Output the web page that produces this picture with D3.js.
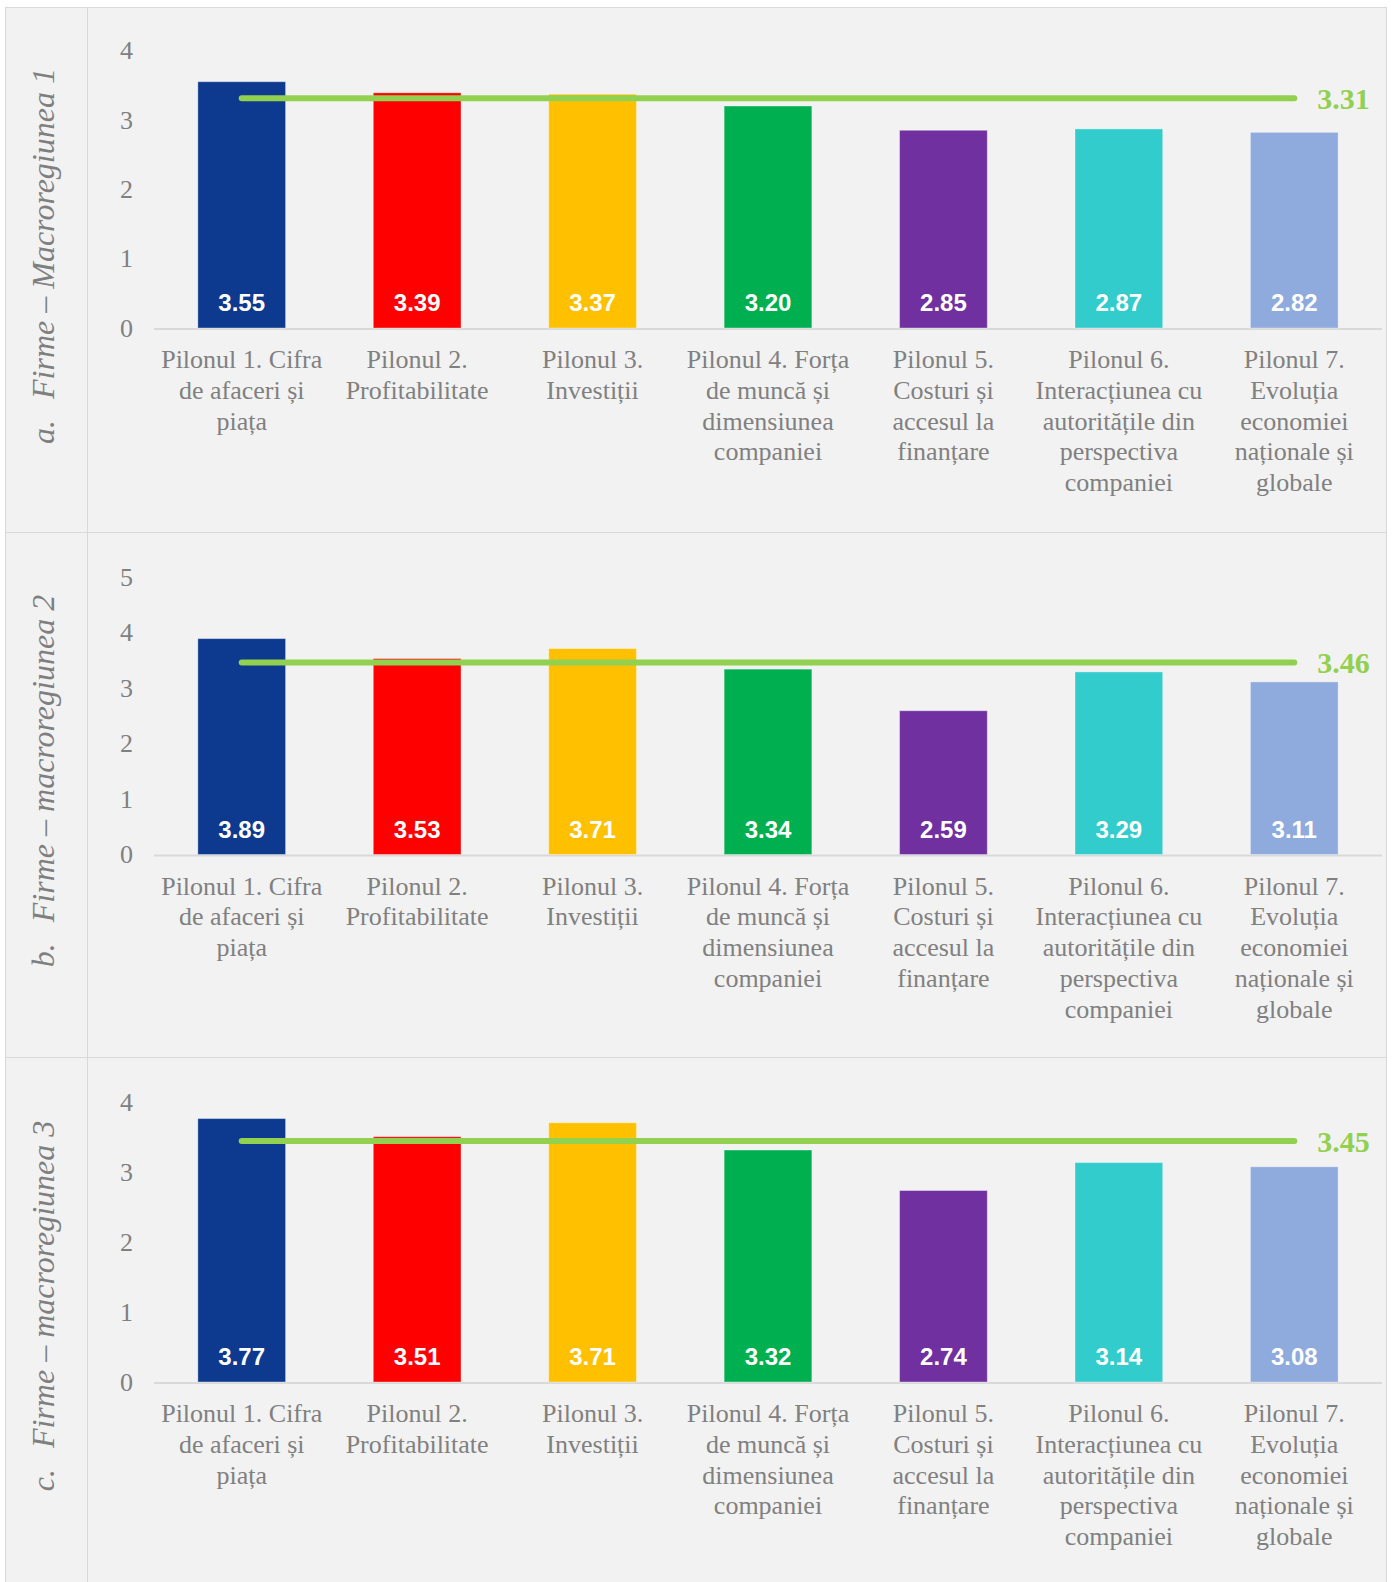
<!DOCTYPE html>
<html>
<head>
<meta charset="utf-8">
<script src="https://cdn.jsdelivr.net/npm/d3@7"></script>
<style>
  body { margin: 0; background: #ffffff; }
  svg { display: block; }
</style>
</head>
<body>
<script>
// categories (as wrapped in the picture)
var categories = [
  ["Pilonul 1. Cifra", "de afaceri și", "piața"],
  ["Pilonul 2.", "Profitabilitate"],
  ["Pilonul 3.", "Investiții"],
  ["Pilonul 4. Forța", "de muncă și", "dimensiunea", "companiei"],
  ["Pilonul 5.", "Costuri și", "accesul la", "finanțare"],
  ["Pilonul 6.", "Interacțiunea cu", "autoritățile din", "perspectiva", "companiei"],
  ["Pilonul 7.", "Evoluția", "economiei", "naționale și", "globale"]
];
var barColors = ["#0d3a8e", "#ff0000", "#ffc000", "#00b050", "#7030a0", "#33cccc", "#8faadc"];

var valuesA = [3.55, 3.39, 3.37, 3.20, 2.85, 2.87, 2.82];
var valuesB = [3.89, 3.53, 3.71, 3.34, 2.59, 3.29, 3.11];
var valuesC = [3.77, 3.51, 3.71, 3.32, 2.74, 3.14, 3.08];
var averages = [3.31, 3.46, 3.45];
var yMaxes = [4, 5, 4];
var letters = ["a.", "b.", "c."];
var titles = ["Firme – Macroregiunea 1", "Firme – macroregiunea 2", "Firme – macroregiunea 3"];

var panels = [valuesA, valuesB, valuesC].map(function (v, i) {
  return { values: v, avg: averages[i], yMax: yMaxes[i], letter: letters[i], title: titles[i] };
});

var W = 1394, H = 1582;
var panelTop = [7, 532, 1057];
var zeroOff = [321, 322.5, 325];
var topOff = [43.5, 45, 45.5];

const svg = d3
  .select("body")
  .append("svg")
  .attr("width", W)
  .attr("height", H);

// background and frame
svg.append("rect")
  .attr("x", 5.5).attr("y", 7.5)
  .attr("width", 1381).attr("height", H)
  .attr("fill", "#f2f2f2")
  .attr("stroke", "#d9d9d9");
svg.append("line")
  .attr("x1", 87.5).attr("x2", 87.5)
  .attr("y1", 7).attr("y2", H)
  .attr("stroke", "#d9d9d9");
panelTop.slice(1).forEach(function (t) {
  svg.append("line")
    .attr("x1", 5).attr("x2", 1386)
    .attr("y1", t + 0.5).attr("y2", t + 0.5)
    .attr("stroke", "#d9d9d9");
});

var x = d3.scaleBand()
  .domain(d3.range(categories.length))
  .range([154, 1382])
  .paddingInner(0.5)
  .paddingOuter(0.25);

function drawPanel(p, i) {
  var top = panelTop[i];
  var y0 = top + zeroOff[i];
  var y = d3.scaleLinear().domain([0, p.yMax]).range([y0, top + topOff[i]]);
  var g = svg.append("g");

  // side title
  var tx = 54, ty = top + 249;
  var title = g.append("text")
    .attr("transform", "translate(" + tx + "," + ty + ") rotate(-90)")
    .attr("text-anchor", "middle")
    .attr("font-family", "Liberation Serif, Times New Roman, serif")
    .attr("font-style", "italic")
    .attr("font-size", 32)
    .attr("fill", "#7f7f7f");
  title.append("tspan").text(p.letter);
  title.append("tspan").attr("dx", 21).text(p.title);

  // y axis
  var yAxis = d3.axisLeft(y).ticks(p.yMax).tickSize(0).tickPadding(0).tickFormat(d3.format("d"));
  var ya = g.append("g")
    .attr("transform", "translate(133,0)")
    .call(yAxis);
  ya.select(".domain").remove();
  ya.selectAll("text")
    .attr("font-family", "Liberation Serif, Times New Roman, serif")
    .attr("font-size", 26)
    .attr("fill", "#808080");

  // baseline
  g.append("line")
    .attr("x1", 154).attr("x2", 1382)
    .attr("y1", y0 + 1).attr("y2", y0 + 1)
    .attr("stroke", "#d9d9d9")
    .attr("stroke-width", 2);

  // bars
  g.selectAll("rect.bar")
    .data(p.values)
    .enter()
    .append("rect")
    .attr("class", "bar")
    .attr("x", function (d, k) { return x(k); })
    .attr("y", function (d) { return y(d); })
    .attr("width", x.bandwidth())
    .attr("height", function (d) { return y0 - y(d); })
    .attr("fill", function (d, k) { return barColors[k]; })
    .attr("stroke", "#ffffff")
    .attr("stroke-opacity", 0.35)
    .attr("stroke-width", 1);

  // value labels
  g.selectAll("text.val")
    .data(p.values)
    .enter()
    .append("text")
    .attr("class", "val")
    .attr("x", function (d, k) { return x(k) + x.bandwidth() / 2; })
    .attr("y", y0 - 17)
    .attr("text-anchor", "middle")
    .attr("font-family", "Liberation Sans, Arial, sans-serif")
    .attr("font-weight", "bold")
    .attr("font-size", 24)
    .attr("fill", "#ffffff")
    .text(function (d) { return d.toFixed(2); });

  // average line
  var xa = x(0) + x.bandwidth() / 2;
  var xb = x(categories.length - 1) + x.bandwidth() / 2;
  g.append("line")
    .attr("x1", xa).attr("x2", xb)
    .attr("y1", y(p.avg)).attr("y2", y(p.avg))
    .attr("stroke", "#92d050")
    .attr("stroke-width", 6)
    .attr("stroke-linecap", "round");
  g.append("text")
    .attr("x", xb + 23)
    .attr("y", y(p.avg) + 11)
    .attr("font-family", "Liberation Serif, Times New Roman, serif")
    .attr("font-weight", "bold")
    .attr("font-size", 30)
    .attr("fill", "#92d050")
    .text(p.avg.toFixed(2));

  // category labels
  var cat = g.selectAll("text.cat")
    .data(categories)
    .enter()
    .append("text")
    .attr("class", "cat")
    .attr("text-anchor", "middle")
    .attr("font-family", "Liberation Serif, Times New Roman, serif")
    .attr("font-size", 26)
    .attr("fill", "#808080");
  cat.each(function (lines, k) {
    var t = d3.select(this);
    lines.forEach(function (ln, j) {
      t.append("tspan")
        .attr("x", x(k) + x.bandwidth() / 2)
        .attr("y", y0 + 40 + j * 30.8)
        .text(ln);
    });
  });
}

panels.forEach(drawPanel);
</script>
</body>
</html>
